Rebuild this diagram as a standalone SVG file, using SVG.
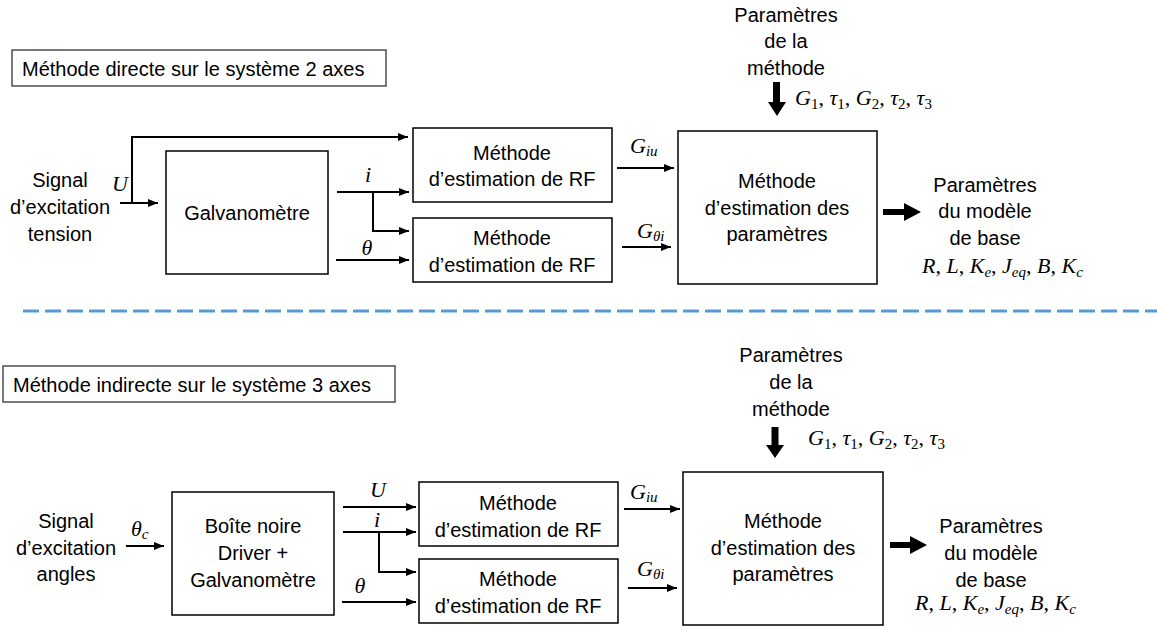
<svg xmlns="http://www.w3.org/2000/svg" width="1157" height="632" viewBox="0 0 1157 632">
<style>
.t{font-family:"Liberation Sans",Arial,sans-serif;font-size:20px;fill:#000}
.c{text-anchor:middle}
.m{font-family:"Liberation Serif","Times New Roman",serif;font-style:italic;font-size:22px;fill:#000}
.n{font-style:normal}
.s{font-size:15px}
.box{fill:#fff;stroke:#000;stroke-width:1.5}
.tb{fill:#fff;stroke:#333;stroke-width:1.3}
.ar{fill:none;stroke:#000;stroke-width:2;marker-end:url(#ah)}
.th{fill:#000}
</style>
<defs>
<marker id="ah" markerUnits="userSpaceOnUse" markerWidth="10" markerHeight="8" refX="10" refY="4" orient="auto">
<path d="M0,0 L10,4 L0,8 z" fill="#000"/>
</marker>
</defs>
<rect width="1157" height="632" fill="#fff"/>

<!-- Top section -->
<g id="title1"><rect class="tb" x="12" y="50" width="374" height="36"/><text class="t" x="22" y="76">Méthode directe sur le système 2 axes</text></g>
<g id="signal1"><text class="t c" x="60" y="187">Signal</text><text class="t c" x="60" y="214">d’excitation</text><text class="t c" x="60" y="241">tension</text></g>
<g id="galvano"><rect class="box" x="166" y="151" width="162" height="123"/><text class="t c" x="247" y="220">Galvanomètre</text></g>
<g id="rf1"><rect class="box" x="413" y="128" width="199" height="74"/><text class="t c" x="512" y="160">Méthode</text><text class="t c" x="512" y="186">d’estimation de RF</text></g>
<g id="rf2"><rect class="box" x="413" y="218" width="199" height="64"/><text class="t c" x="512" y="245">Méthode</text><text class="t c" x="512" y="272">d’estimation de RF</text></g>
<g id="est1"><rect class="box" x="678" y="131" width="199" height="153"/><text class="t c" x="777" y="188">Méthode</text><text class="t c" x="777" y="215">d’estimation des</text><text class="t c" x="777" y="241">paramètres</text></g>
<g id="params1"><text class="t c" x="786" y="22">Paramètres</text><text class="t c" x="786" y="48">de la</text><text class="t c" x="786" y="75">méthode</text>
<text class="m" x="795" y="105">G<tspan class="n s" dy="4">1</tspan><tspan class="n" dy="-4">, </tspan>τ<tspan class="n s" dy="4">1</tspan><tspan class="n" dy="-4">, </tspan>G<tspan class="n s" dy="4">2</tspan><tspan class="n" dy="-4">, </tspan>τ<tspan class="n s" dy="4">2</tspan><tspan class="n" dy="-4">, </tspan>τ<tspan class="n s" dy="4">3</tspan></text></g>
<g id="out1"><text class="t c" x="985" y="192">Paramètres</text><text class="t c" x="985" y="218">du modèle</text><text class="t c" x="985" y="245">de base</text>
<text class="m" x="922" y="273">R<tspan class="n">, </tspan>L<tspan class="n">, </tspan>K<tspan class="s" dy="4">e</tspan><tspan class="n" dy="-4">, </tspan>J<tspan class="s" dy="4">eq</tspan><tspan class="n" dy="-4">, </tspan>B<tspan class="n">, </tspan>K<tspan class="s" dy="4">c</tspan></text></g>

<!-- Bottom section -->
<g id="title2"><rect class="tb" x="3" y="366" width="392" height="36"/><text class="t" x="13" y="392">Méthode indirecte sur le système 3 axes</text></g>
<g id="signal2"><text class="t c" x="66" y="528">Signal</text><text class="t c" x="66" y="555">d’excitation</text><text class="t c" x="66" y="581">angles</text></g>
<g id="blackbox"><rect class="box" x="172" y="492" width="162" height="123"/><text class="t c" x="253" y="533">Boîte noire</text><text class="t c" x="253" y="560">Driver +</text><text class="t c" x="253" y="587">Galvanomètre</text></g>
<g id="rf3"><rect class="box" x="419" y="482" width="199" height="64"/><text class="t c" x="518" y="510">Méthode</text><text class="t c" x="518" y="537">d’estimation de RF</text></g>
<g id="rf4"><rect class="box" x="419" y="559" width="199" height="64"/><text class="t c" x="518" y="586">Méthode</text><text class="t c" x="518" y="613">d’estimation de RF</text></g>
<g id="est2"><rect class="box" x="683" y="472" width="200" height="153"/><text class="t c" x="783" y="528">Méthode</text><text class="t c" x="783" y="555">d’estimation des</text><text class="t c" x="783" y="581">paramètres</text></g>
<g id="params2"><text class="t c" x="791" y="362">Paramètres</text><text class="t c" x="791" y="389">de la</text><text class="t c" x="791" y="416">méthode</text>
<text class="m" x="808" y="445">G<tspan class="n s" dy="4">1</tspan><tspan class="n" dy="-4">, </tspan>τ<tspan class="n s" dy="4">1</tspan><tspan class="n" dy="-4">, </tspan>G<tspan class="n s" dy="4">2</tspan><tspan class="n" dy="-4">, </tspan>τ<tspan class="n s" dy="4">2</tspan><tspan class="n" dy="-4">, </tspan>τ<tspan class="n s" dy="4">3</tspan></text></g>
<g id="out2"><text class="t c" x="991" y="533">Paramètres</text><text class="t c" x="991" y="560">du modèle</text><text class="t c" x="991" y="587">de base</text>
<text class="m" x="915" y="610">R<tspan class="n">, </tspan>L<tspan class="n">, </tspan>K<tspan class="s" dy="4">e</tspan><tspan class="n" dy="-4">, </tspan>J<tspan class="s" dy="4">eq</tspan><tspan class="n" dy="-4">, </tspan>B<tspan class="n">, </tspan>K<tspan class="s" dy="4">c</tspan></text></g>

<!-- Connectors -->
<g id="connectors">
<line x1="23" y1="311" x2="1157" y2="311" stroke="#5B9BD5" stroke-width="3" stroke-dasharray="16 6"/>
<line class="ar" x1="120" y1="203" x2="158" y2="203"/>
<polyline class="ar" points="132,203 132,137 408,137"/>
<line class="ar" x1="337" y1="192" x2="409" y2="192"/>
<polyline class="ar" points="373,192 373,231 409,231"/>
<line class="ar" x1="336" y1="260" x2="409" y2="260"/>
<line class="ar" x1="617" y1="168" x2="674" y2="168"/>
<line class="ar" x1="622" y1="247" x2="671" y2="247"/>
<polygon class="th" points="773,82 780,82 780,102 786,102 777,116 768,102 773,102"/>
<polygon class="th" points="883,209 904,209 904,203 921,212 904,221 904,215 883,215"/>
<line class="ar" x1="126" y1="546" x2="164" y2="546"/>
<line class="ar" x1="343" y1="507" x2="416" y2="507"/>
<line class="ar" x1="343" y1="532" x2="416" y2="532"/>
<polyline class="ar" points="379,532 379,572 416,572"/>
<line class="ar" x1="342" y1="602" x2="416" y2="602"/>
<line class="ar" x1="624" y1="509" x2="680" y2="509"/>
<line class="ar" x1="628" y1="588" x2="677" y2="588"/>
<polygon class="th" points="771.5,427 778.5,427 778.5,445 784,445 775,458 766,445 771.5,445"/>
<polygon class="th" points="890,542 910,542 910,536 927,545 910,554 910,548 890,548"/>
</g>

<!-- Connector labels -->
<g id="labels">
<text class="m" x="120" y="191" font-size="24" text-anchor="middle">U</text>
<text class="m" x="368" y="182" font-size="20" text-anchor="middle">i</text>
<text class="m" x="367" y="255" font-size="20" text-anchor="middle">θ</text>
<text class="m" x="630" y="153">G<tspan class="s" dy="3">iu</tspan></text>
<text class="m" x="637" y="238">G<tspan class="s" dy="3">θi</tspan></text>
<text class="m" x="131" y="536">θ<tspan class="s" dy="3">c</tspan></text>
<text class="m" x="378" y="497" font-size="24" text-anchor="middle">U</text>
<text class="m" x="377" y="527" font-size="20" text-anchor="middle">i</text>
<text class="m" x="360" y="593" font-size="20" text-anchor="middle">θ</text>
<text class="m" x="630" y="499">G<tspan class="s" dy="3">iu</tspan></text>
<text class="m" x="637" y="576">G<tspan class="s" dy="3">θi</tspan></text>
</g>
</svg>
